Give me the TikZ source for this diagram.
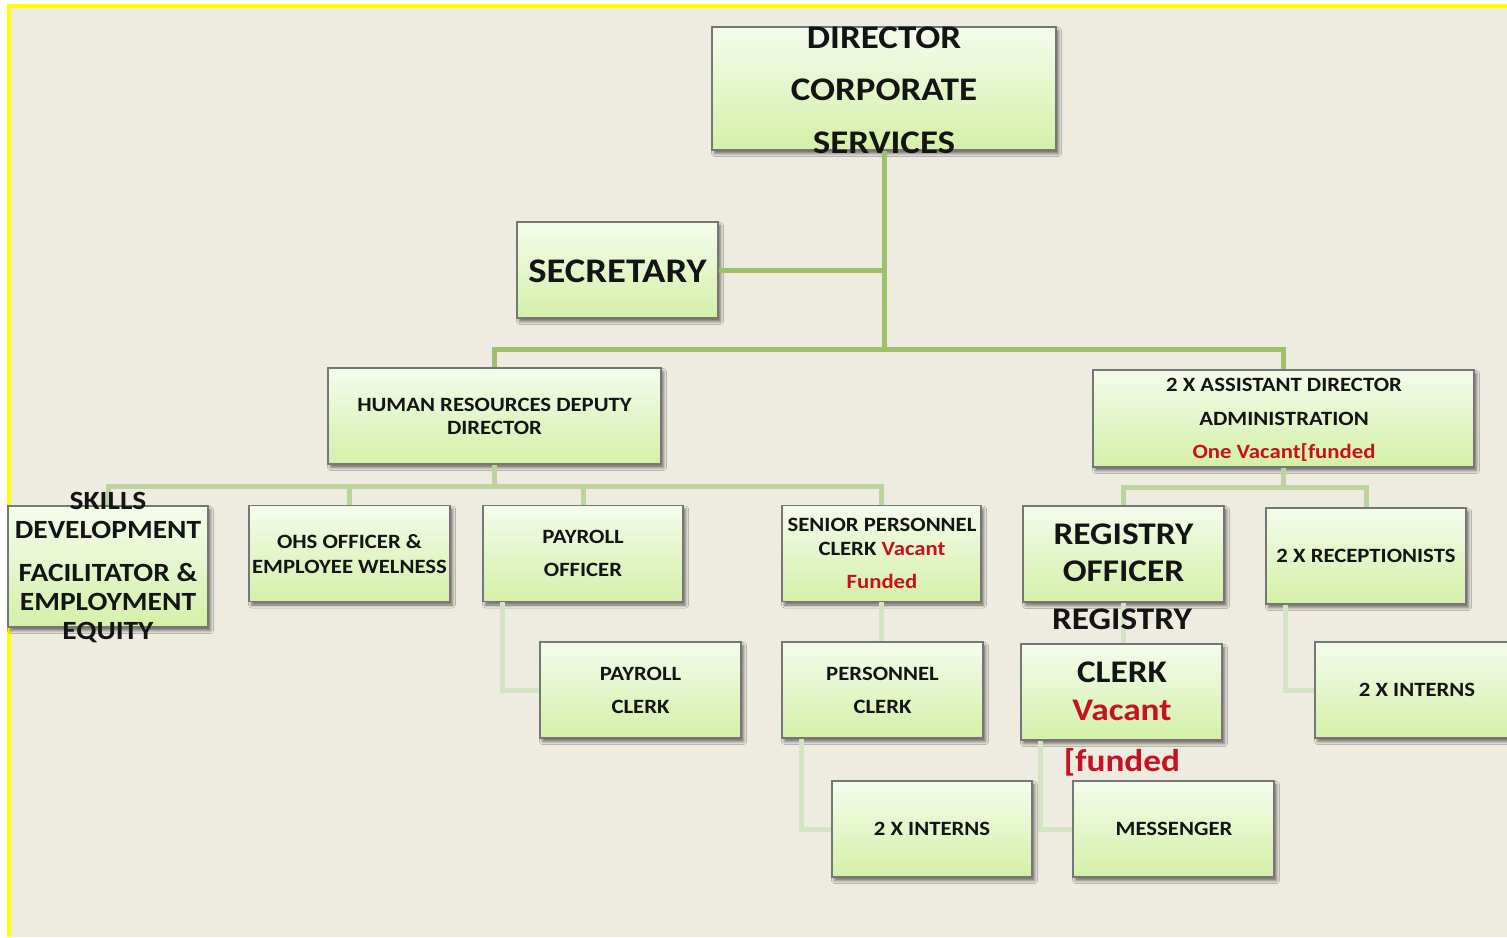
\documentclass[tikz,border=0pt]{standalone}
\usepackage{fontspec}
\setmainfont{Carlito}[FakeStretch=1.12]
\usetikzlibrary{shadows.blur}

\definecolor{paper}{HTML}{EEEBE1}
\definecolor{frameyellow}{HTML}{FFFF00}
\definecolor{boxtop}{HTML}{F4FCEC}
\definecolor{boxbottom}{HTML}{D4F0A8}
\definecolor{boxline}{HTML}{767676}
\definecolor{linkmain}{HTML}{9EC06A}
\definecolor{linkmid}{HTML}{BDD49E}
\definecolor{linklight}{HTML}{D4E3C4}
\definecolor{ink}{HTML}{141414}
\definecolor{vacant}{HTML}{C8101E}

\tikzset{
  post/.style={draw=boxline, line width=1.3pt, top color=boxtop, bottom color=boxbottom,
    minimum width=200pt, minimum height=96pt, inner sep=0pt,
    blur shadow={shadow xshift=2.5pt, shadow yshift=-3.5pt, shadow blur radius=3pt, shadow opacity=55}},
  title/.style={text=ink, font=\bfseries, align=center, inner sep=0pt},
  linkA/.style={draw=linkmain, line width=5pt},
  linkB/.style={draw=linkmid, line width=5pt},
  linkC/.style={draw=linklight, line width=5pt},
}
\newcommand{\vac}[1]{\textcolor{vacant}{#1}}

\begin{document}
\begin{tikzpicture}[x=1pt, y=-1pt]
\useasboundingbox (0,0) rectangle (1507,937);
% paper and frame
\fill[white] (0,0) rectangle (1507,937);
\fill[paper] (7,4) rectangle (1507,937);
\draw[frameyellow, line width=4pt] (8.5,937) -- (8.5,5.5) -- (1507,5.5);

% boxes
\node[post, minimum width=344pt, minimum height=123pt] (dir) at (884,88.5) {};
\node[post, minimum width=201pt] (sec) at (617.5,270) {};
\node[post, minimum width=333pt] (hr) at (494.5,416) {};
\node[post, minimum width=381pt, minimum height=97pt] (asst) at (1283.5,418.5) {};
\node[post, minimum height=121pt] (skills) at (108,566.5) {};
\node[post, minimum width=201pt] (ohs) at (349.5,553.5) {};
\node[post] (payo) at (583,553.5) {};
\node[post, minimum width=199pt] (senior) at (881.5,553.5) {};
\node[post, minimum width=201pt] (rego) at (1123.5,554) {};
\node[post] (recep) at (1366,556) {};
\node[post, minimum width=201pt] (payc) at (640.5,690) {};
\node[post, minimum width=201pt] (perc) at (882.5,690) {};
\node[post, minimum width=201pt] (regc) at (1121.5,692) {};
\node[post, minimum width=202pt] (intR) at (1416,690) {};
\node[post] (intM) at (932,829) {};
\node[post, minimum width=201pt] (mess) at (1173.5,829) {};

% connectors
\coordinate (busTop) at (884,349.5);
\coordinate (busHR) at (494.5,486);
\coordinate (busAdm) at (1283.5,487);
\draw[linkA] (dir.south) -- ([yshift=-2.5pt]busTop);
\draw[linkA] (sec.east) -- (sec.east -| dir.south);
\draw[linkA] (hr.north) |- (busTop) -| (asst.north);
\draw[linkB] (hr.south) -- ([yshift=-2.5pt]busHR);
\draw[linkB] (skills.north) |- (busHR) -| (senior.north);
\draw[linkB] (ohs.north) -- ([yshift=-2.5pt]ohs.north |- busHR);
\draw[linkB] (payo.north) -- ([yshift=-2.5pt]payo.north |- busHR);
\draw[linkB] (asst.south) -- ([yshift=-2.5pt]busAdm);
\draw[linkB] (rego.north) |- (busAdm) -| (recep.north);
\draw[linkC] ([xshift=20pt]payo.south west) |- (payc.west);
\draw[linkC] (senior.south) -- (senior.south |- perc.north);
\draw[linkC] ([xshift=20pt]perc.south west) |- (intM.west);
\draw[linkC] (rego.south) -- (rego.south |- regc.north);
\draw[linkC] ([xshift=20pt]regc.south west) |- (mess.west);
\draw[linkC] ([xshift=20pt]recep.south west) |- (intR.west);

% titles
\node[title, font=\bfseries\fontsize{33}{52.5}\selectfont] (dirT) at (884,90) {DIRECTOR\\CORPORATE\\SERVICES};
\node[title, font=\bfseries\fontsize{34.5}{40}\selectfont] (secT) at (617.5,271) {SECRETARY};
\node[title, font=\bfseries\fontsize{20.3}{23}\selectfont] (hrT) at (494.5,416) {HUMAN RESOURCES DEPUTY\\DIRECTOR};
\node[title, font=\bfseries\fontsize{20.3}{33.5}\selectfont] (asstT) at (1284,420) {2 X ASSISTANT DIRECTOR\\ADMINISTRATION\\\vac{One Vacant[funded}};
\node[title, font=\bfseries\fontsize{26.3}{29}\selectfont] (skillsT) at (108,568) {SKILLS\\DEVELOPMENT\\[14pt]FACILITATOR \&\\EMPLOYMENT\\EQUITY};
\node[title, font=\bfseries\fontsize{20.3}{25}\selectfont] (ohsT) at (349.5,554) {OHS OFFICER \&\\EMPLOYEE WELNESS};
\node[title, font=\bfseries\fontsize{20.3}{33}\selectfont] (payoT) at (583,553) {PAYROLL\\OFFICER};
\node[title, font=\bfseries\fontsize{20.3}{24}\selectfont] (seniorT) at (882,553) {SENIOR PERSONNEL\\CLERK \vac{Vacant}\\[9pt]\vac{Funded}};
\node[title, font=\bfseries\fontsize{31.5}{37}\selectfont] (regoT) at (1123.5,553) {REGISTRY\\OFFICER};
\node[title, font=\bfseries\fontsize{20.3}{25}\selectfont] (recepT) at (1366,556) {2 X RECEPTIONISTS};
\node[title, font=\bfseries\fontsize{31.5}{38}\selectfont] (regcT) at (1122,692) {REGISTRY\\[15pt]CLERK\\\vac{Vacant}\\[13pt]\vac{[funded}};
\node[title, font=\bfseries\fontsize{20.3}{33}\selectfont] (paycT) at (640.5,690) {PAYROLL\\CLERK};
\node[title, font=\bfseries\fontsize{20.3}{33}\selectfont] (percT) at (882.5,690) {PERSONNEL\\CLERK};
\node[title, font=\bfseries\fontsize{20.3}{25}\selectfont] (intRT) at (1417,690) {2 X INTERNS};
\node[title, font=\bfseries\fontsize{20.3}{25}\selectfont] (intMT) at (932,829) {2 X INTERNS};
\node[title, font=\bfseries\fontsize{20.3}{25}\selectfont] (messT) at (1174,829) {MESSENGER};
\end{tikzpicture}
\end{document}
